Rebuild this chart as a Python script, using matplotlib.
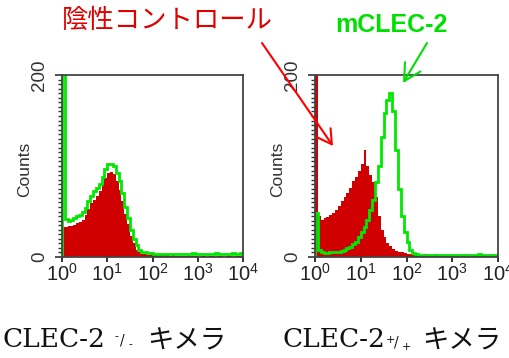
import numpy as np
import matplotlib
matplotlib.use("Agg")
import matplotlib.pyplot as plt
from matplotlib.ticker import FixedLocator, MultipleLocator, LogLocator, NullFormatter

plt.rcParams["font.family"] = ["Liberation Sans", "DejaVu Sans"]
plt.rcParams["mathtext.fontset"] = "custom"
plt.rcParams["mathtext.rm"] = "Liberation Sans"
plt.rcParams["mathtext.it"] = "Liberation Sans:italic"

# histogram counts, 64 log-spaced channels from 10^0 to 10^4
left_red = [33, 33, 34, 34, 35, 37, 38, 41, 46, 53, 59, 63, 67, 72, 80, 87,
            92, 93, 91, 84, 74, 62, 47, 36, 23, 15, 8, 5, 3, 3, 2, 3,
            2, 2, 3, 2, 3, 2, 1, 2, 1, 1, 1, 1, 1, 1, 1, 1,
            0, 1, 1, 0, 1, 1, 0, 1, 1, 0, 1, 1, 0, 1, 1, 1]
left_green = [210, 42, 40, 41, 43, 45, 46, 49, 54, 62, 67, 72, 76, 80, 88, 97,
              102, 102, 100, 92, 83, 70, 55, 43, 30, 20, 13, 8, 6, 5, 4, 4,
              3, 3, 3, 3, 3, 3, 3, 3, 3, 3, 3, 3, 3, 3, 4, 3,
              3, 3, 3, 3, 3, 3, 4, 3, 3, 3, 3, 3, 4, 3, 3, 4]
right_red = [210, 45, 41, 43, 44, 46, 48, 52, 56, 61, 66, 70, 76, 83, 88, 95,
             102, 118, 100, 90, 82, 66, 45, 30, 22, 15, 12, 9, 7, 6, 5, 4,
             3, 3, 2, 2, 2, 2, 3, 2, 2, 1, 3, 1, 1, 1, 1, 1,
             1, 1, 1, 1, 1, 1, 1, 1, 1, 1, 1, 1, 1, 1, 1, 1]
right_green = [48, 8, 5, 4, 4, 5, 5, 6, 6, 7, 8, 10, 11, 14, 17, 22,
               27, 33, 41, 52, 63, 82, 100, 132, 158, 172, 180, 160, 118, 75, 45, 28,
               16, 8, 4, 3, 2, 2, 2, 2, 2, 2, 2, 2, 2, 2, 2, 2,
               2, 2, 2, 2, 2, 2, 2, 2, 2, 3, 2, 2, 2, 2, 2, 2]

x_ticks = [1, 10, 100, 1000, 10000]
x_labels = ["$10^{0}$", "$10^{1}$", "$10^{2}$", "$10^{3}$", "$10^{4}$"]
y_ticks = [0, 200]
y_labels = ["0", "200"]

RED = "#d00000"
GREEN = "#00e800"
edges = np.logspace(0, 4, len(left_red) + 1)

fig = plt.figure(figsize=(5.1, 3.58), dpi=100)
ax_l = fig.add_axes([62 / 510, 101 / 358, 181 / 510, 182 / 358])
ax_r = fig.add_axes([315 / 510, 101 / 358, 183 / 510, 182 / 358])

for ax, red, green in [(ax_l, left_red, left_green), (ax_r, right_red, right_green)]:
    ax.stairs(red, edges, fill=True, color=RED, zorder=2)
    ax.stairs(green, edges, color=GREEN, lw=2.0, zorder=3)
    ax.set_xscale("log")
    ax.set_xlim(1, 10000)
    ax.set_ylim(0, 200)

    ax.xaxis.set_major_locator(FixedLocator(x_ticks))
    ax.set_xticklabels(x_labels, fontsize=14.5, color="#222222")
    ax.xaxis.set_minor_locator(LogLocator(base=10, subs=np.arange(2, 10)))
    ax.xaxis.set_minor_formatter(NullFormatter())
    ax.tick_params(axis="x", which="major", direction="out", length=3.5, width=1.3,
                   pad=1.0, color="#222222")
    ax.tick_params(axis="x", which="minor", direction="out", length=2.2, width=1.1,
                   color="#222222")

    ax.yaxis.set_major_locator(FixedLocator(y_ticks))
    ax.set_yticklabels(y_labels, fontsize=13.5, color="#333333", rotation=90, va="center")
    ax.yaxis.set_minor_locator(MultipleLocator(5))
    ax.tick_params(axis="y", which="major", direction="out", length=5, width=1.2,
                   pad=5, color="#333333")
    ax.tick_params(axis="y", which="minor", direction="out", length=3, width=1.0,
                   color="#333333")

    ax.set_ylabel("Counts", fontsize=12.5, color="#333333")
    ax.yaxis.set_label_coords(-0.165, 0.48)
    for sp in ax.spines.values():
        sp.set_color("#444444")
        sp.set_linewidth(1.3)
        sp.set_zorder(4)

# annotations above the panels
fig.text(167 / 510, 338 / 358, "陰性コントロール", color="#e00000", fontsize=19,
         family=["Noto Sans CJK JP", "DejaVu Sans"], ha="center", va="center")
fig.text(391 / 510, 326 / 358, "mCLEC-2", color="#00e000", fontsize=18,
         fontweight="bold", ha="center", va="baseline")

fig.add_artist(plt.Annotation(
    "", xy=(333, 212), xytext=(262, 315), xycoords="figure pixels",
    textcoords="figure pixels",
    arrowprops=dict(arrowstyle="->,head_length=10,head_width=5.8", mutation_scale=1,
                    color="#ff0000", lw=1.5, shrinkA=0, shrinkB=0)))
fig.add_artist(plt.Annotation(
    "", xy=(403, 275), xytext=(427, 315), xycoords="figure pixels",
    textcoords="figure pixels",
    arrowprops=dict(arrowstyle="->,head_length=12,head_width=6.5", mutation_scale=1,
                    color="#00e000", lw=1.5, shrinkA=0, shrinkB=0)))

# panel captions: "CLEC-2", genotype written as a small slanted fraction, "キメラ"
serif = ["DejaVu Serif"]
cjk = ["Noto Sans CJK JP", "DejaVu Sans"]
captions = [
    (3, ["-", "/", "-"], [(112, 18), (117, 13), (126, 10)], 144),
    (283, ["+", "/", "+"], [(103, 15), (111, 12), (119, 8)], 139),
]
for x0, marks, spots, cjk_dx in captions:
    fig.text(x0 / 510, 11 / 358, "CLEC-2", family=serif, fontsize=19,
             ha="left", va="baseline", color="#111111")
    for mark, (dx, y), size in zip(marks, spots, [8, 10, 8]):
        fig.text((x0 + dx) / 510, y / 358, mark, family=serif, fontsize=size,
                 ha="left", va="baseline", color="#111111")
    fig.text((x0 + cjk_dx) / 510, 9 / 358, "キメラ", family=cjk, fontsize=19,
             ha="left", va="baseline", color="#111111")

fig.savefig("out.png", dpi=100)
